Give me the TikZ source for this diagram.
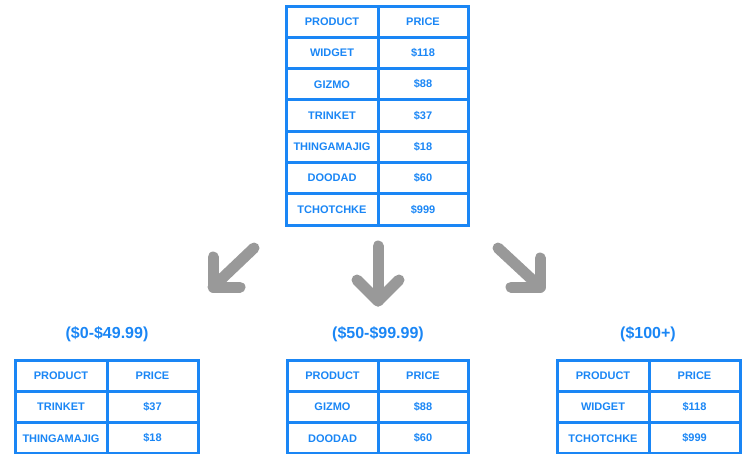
\documentclass[tikz,border=0pt]{standalone}
\usepackage{fontspec}
\setmainfont{Liberation Sans}
\definecolor{tblue}{RGB}{26,134,245}
\definecolor{agray}{RGB}{153,153,153}
\newcommand\ptable[5]{% #1 name, #2 left, #3 mid, #4 right, #5 top ; rows in \rowlist
  \foreach [count=\i from 0] \p/\q in \rowlist {
    \pgfmathsetmacro\ya{#5+\i*31.3}
    \pgfmathsetmacro\yb{\ya+31.3}
    \draw[grid] (#2,\ya) rectangle (#4,\yb);
    \draw[grid] (#3,\ya) -- (#3,\yb);
    \node[cell] (#1-p\i) at ({(#2+#3)/2},{(\ya+\yb)/2}) {\p};
    \node[cell] (#1-q\i) at ({(#3+#4)/2},{(\ya+\yb)/2}) {\q};
  }
}
\begin{document}
\begin{tikzpicture}[x=1pt,y=-1pt,
  cell/.style={font=\bfseries\fontsize{11}{13}\selectfont, text=tblue, inner sep=0pt},
  lbl/.style={font=\bfseries\fontsize{16}{19}\selectfont, text=tblue, inner sep=0pt},
  grid/.style={draw=tblue, line width=3pt},
  arr/.style={draw=agray, line width=11pt, line cap=round, line join=round}]
\useasboundingbox (0,0) rectangle (744,453);
\def\rowlist{PRODUCT/PRICE,WIDGET/\$118,GIZMO/\$88,TRINKET/\$37,THINGAMAJIG/\$18,DOODAD/\$60,TCHOTCHKE/\$999}
\ptable{top}{286}{378}{468}{6}
\def\rowlist{PRODUCT/PRICE,TRINKET/\$37,THINGAMAJIG/\$18}
\ptable{low}{15}{107}{198}{360}
\def\rowlist{PRODUCT/PRICE,GIZMO/\$88,DOODAD/\$60}
\ptable{mid}{287}{378}{468}{360}
\def\rowlist{PRODUCT/PRICE,WIDGET/\$118,TCHOTCHKE/\$999}
\ptable{high}{557}{649}{740}{360}
\node[lbl] (lab1) at (107,334) {(\$0-\$49.99)};
\node[lbl] (lab2) at (378,334) {(\$50-\$99.99)};
\node[lbl] (lab3) at (648,334) {(\$100+)};
% arrows
\coordinate (a1s) at (254,248); \coordinate (a1t) at (213,287);
\coordinate (a1u) at (213,257); \coordinate (a1r) at (240,287);
\draw[arr] (a1s) -- (a1t);
\draw[arr] (a1u) -- (a1t) -- (a1r);
\coordinate (a2s) at (378,246); \coordinate (a2t) at (378,301);
\coordinate (a2l) at (357,280); \coordinate (a2r) at (399,280);
\draw[arr] (a2s) -- (a2t);
\draw[arr] (a2l) -- (a2t) -- (a2r);
\coordinate (a3s) at (498,248); \coordinate (a3t) at (540,287);
\coordinate (a3u) at (540,258); \coordinate (a3l) at (511,287);
\draw[arr] (a3s) -- (a3t);
\draw[arr] (a3u) -- (a3t) -- (a3l);
\end{tikzpicture}
\end{document}
